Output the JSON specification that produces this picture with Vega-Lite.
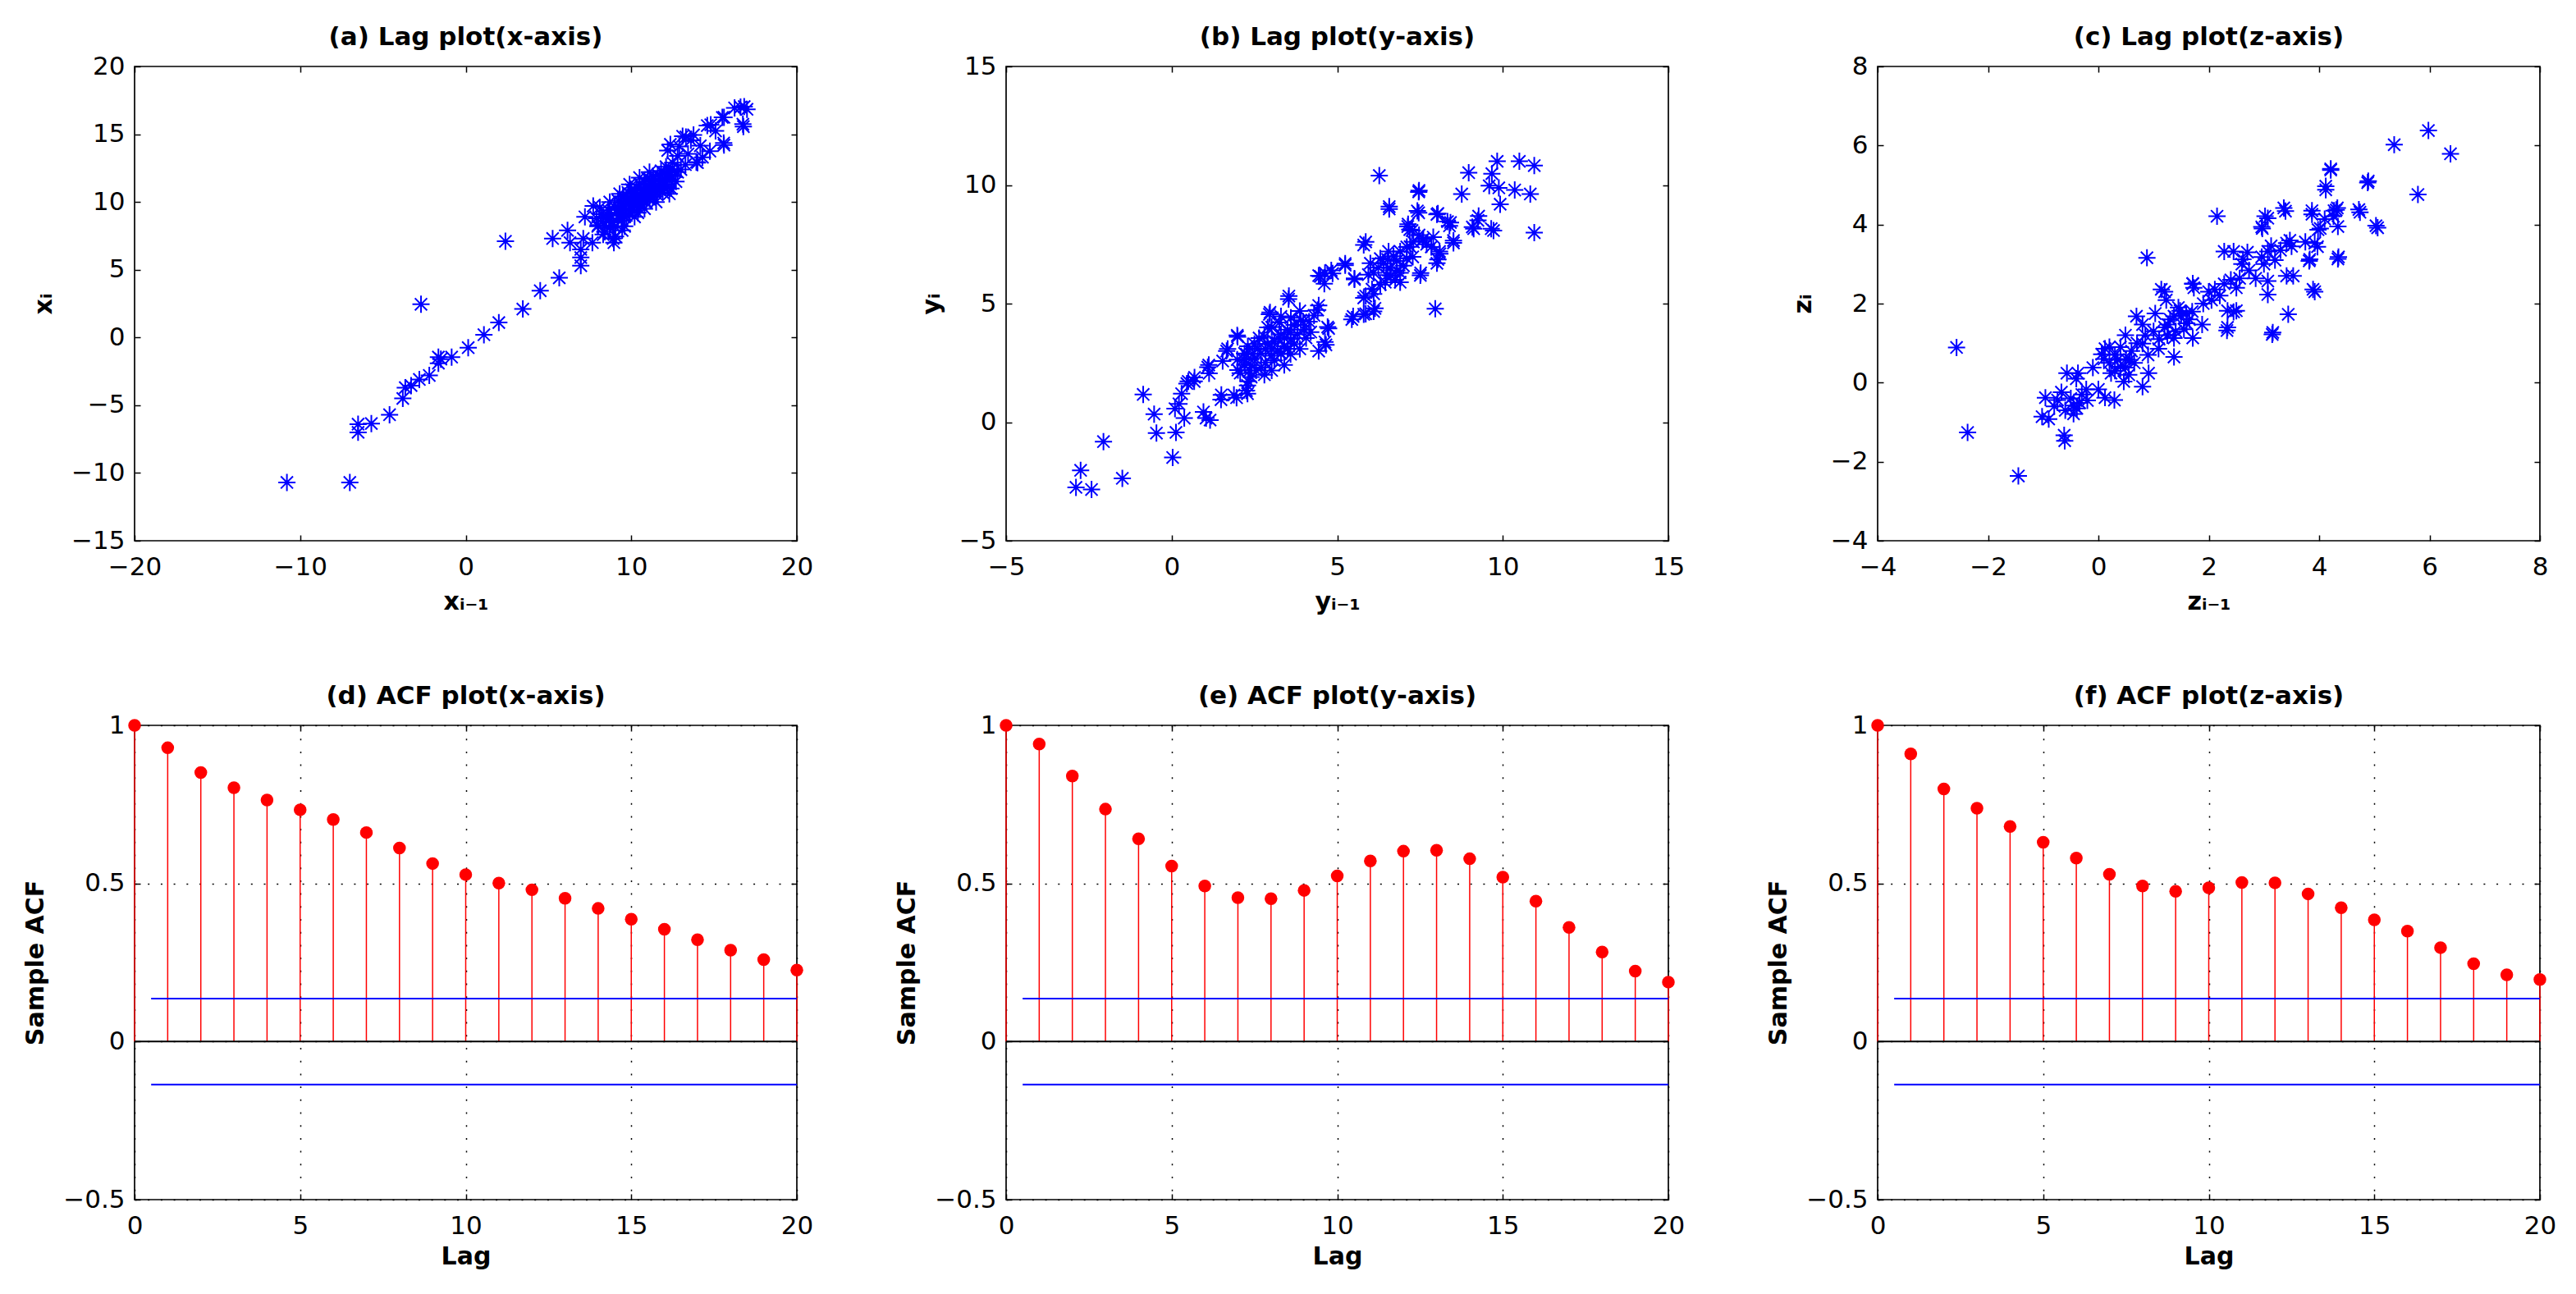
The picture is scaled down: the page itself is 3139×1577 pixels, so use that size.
{
  "$schema": "https://vega.github.io/schema/vega-lite/v6.json",
  "description": "Lag plots and sample ACF plots for the x, y and z axes",
  "background": "white",
  "padding": {"left": 27, "top": 29, "right": 0, "bottom": 0},
  "columns": 3,
  "spacing": {"row": 225, "column": 255},
  "bounds": "flush",
  "datasets": {
    "lagx": [
      {"prev": -10.8, "curr": -10.7}, {"prev": -7.0, "curr": -10.7}, {"prev": -6.5, "curr": -6.4}, {"prev": -6.5, "curr": -7.0},
      {"prev": -5.7, "curr": -6.35}, {"prev": -4.6, "curr": -5.7}, {"prev": -3.8, "curr": -4.5}, {"prev": -3.65, "curr": -3.7},
      {"prev": -3.3, "curr": -3.55}, {"prev": -2.8, "curr": -3.1}, {"prev": -2.2, "curr": -2.8}, {"prev": -2.7, "curr": 2.45},
      {"prev": -1.65, "curr": -1.45}, {"prev": -1.65, "curr": -1.9}, {"prev": -1.5, "curr": -1.6}, {"prev": -0.85, "curr": -1.45},
      {"prev": 0.15, "curr": -0.75}, {"prev": 1.1, "curr": 0.2}, {"prev": 2.0, "curr": 1.1}, {"prev": 2.4, "curr": 7.1},
      {"prev": 3.45, "curr": 2.1}, {"prev": 4.5, "curr": 3.45}, {"prev": 5.65, "curr": 4.4}, {"prev": 5.25, "curr": 7.3},
      {"prev": 6.15, "curr": 7.9}, {"prev": 6.3, "curr": 7.0}, {"prev": 6.95, "curr": 5.3}, {"prev": 6.95, "curr": 5.9},
      {"prev": 6.95, "curr": 6.5}, {"prev": 7.1, "curr": 7.3}, {"prev": 7.2, "curr": 8.9}, {"prev": 7.7, "curr": 9.7},
      {"prev": 7.65, "curr": 7.0}, {"prev": 8.95, "curr": 7.0}, {"prev": 9.05, "curr": 7.45}, {"prev": 9.45, "curr": 7.9},
      {"prev": 8.64, "curr": 8.76}, {"prev": 7.98, "curr": 8.2},
      {"prev": 12.36, "curr": 14.25}, {"prev": 13.1, "curr": 14.85}, {"prev": 13.76, "curr": 14.95}, {"prev": 14.59, "curr": 15.64},
      {"prev": 15.09, "curr": 15.24}, {"prev": 15.5, "curr": 16.24}, {"prev": 15.58, "curr": 14.35}, {"prev": 14.75, "curr": 13.75},
      {"prev": 14.17, "curr": 14.15}, {"prev": 13.6, "curr": 14.55}, {"prev": 13.43, "curr": 13.55}, {"prev": 13.93, "curr": 12.95},
      {"prev": 13.27, "curr": 12.75}, {"prev": 16.24, "curr": 16.94}, {"prev": 16.82, "curr": 17.04}, {"prev": 16.99, "curr": 16.84},
      {"prev": 16.74, "curr": 15.74}, {"prev": 16.6, "curr": 17.0}, {"prev": 15.6, "curr": 16.25}, {"prev": 16.77, "curr": 15.56},
      {"prev": 15.6, "curr": 14.2}, {"prev": 14.8, "curr": 15.7}, {"prev": 13.3, "curr": 14.8}, {"prev": 14.3, "curr": 13.3},
      {"prev": 14.0, "curr": 12.9}, {"prev": 12.8, "curr": 13.4}, {"prev": 12.5, "curr": 12.9}, {"prev": 12.2, "curr": 13.8},
      {"prev": 12.9, "curr": 14.1},
      {"prev": 8.0, "curr": 8.3}, {"prev": 8.2, "curr": 9.1}, {"prev": 8.4, "curr": 7.8}, {"prev": 8.5, "curr": 8.6},
      {"prev": 8.6, "curr": 9.4}, {"prev": 8.7, "curr": 8.1}, {"prev": 8.8, "curr": 9.0}, {"prev": 8.9, "curr": 8.5},
      {"prev": 9.0, "curr": 9.6}, {"prev": 9.0, "curr": 8.2}, {"prev": 9.1, "curr": 9.2}, {"prev": 9.2, "curr": 8.8},
      {"prev": 9.2, "curr": 10.1}, {"prev": 9.3, "curr": 9.5}, {"prev": 9.4, "curr": 8.6}, {"prev": 9.4, "curr": 9.9},
      {"prev": 9.5, "curr": 9.1}, {"prev": 9.5, "curr": 10.4}, {"prev": 9.6, "curr": 9.7}, {"prev": 9.6, "curr": 8.9},
      {"prev": 9.7, "curr": 10.2}, {"prev": 9.7, "curr": 9.4}, {"prev": 9.8, "curr": 9.9}, {"prev": 9.8, "curr": 10.7},
      {"prev": 9.9, "curr": 9.2}, {"prev": 9.9, "curr": 10.3}, {"prev": 10.0, "curr": 9.7}, {"prev": 10.0, "curr": 10.9},
      {"prev": 10.1, "curr": 10.1}, {"prev": 10.1, "curr": 9.4}, {"prev": 10.2, "curr": 10.6}, {"prev": 10.2, "curr": 9.8},
      {"prev": 10.3, "curr": 10.2}, {"prev": 10.3, "curr": 11.1}, {"prev": 10.4, "curr": 9.6}, {"prev": 10.4, "curr": 10.5},
      {"prev": 10.5, "curr": 10.0}, {"prev": 10.5, "curr": 11.3}, {"prev": 10.6, "curr": 10.4}, {"prev": 10.6, "curr": 9.8},
      {"prev": 10.7, "curr": 10.9}, {"prev": 10.7, "curr": 10.2}, {"prev": 10.8, "curr": 11.5}, {"prev": 10.8, "curr": 10.6},
      {"prev": 10.9, "curr": 10.0}, {"prev": 10.9, "curr": 11.0}, {"prev": 11.0, "curr": 10.5}, {"prev": 11.0, "curr": 11.7},
      {"prev": 11.1, "curr": 10.8}, {"prev": 11.1, "curr": 10.2}, {"prev": 11.2, "curr": 11.3}, {"prev": 11.2, "curr": 10.7},
      {"prev": 11.3, "curr": 11.9}, {"prev": 11.3, "curr": 10.4}, {"prev": 11.4, "curr": 11.1}, {"prev": 11.4, "curr": 10.8},
      {"prev": 11.5, "curr": 11.6}, {"prev": 11.5, "curr": 10.6}, {"prev": 11.6, "curr": 11.2}, {"prev": 11.6, "curr": 12.0},
      {"prev": 11.7, "curr": 10.9}, {"prev": 11.7, "curr": 11.5}, {"prev": 11.8, "curr": 12.3}, {"prev": 11.8, "curr": 11.0},
      {"prev": 11.9, "curr": 11.7}, {"prev": 11.9, "curr": 10.7}, {"prev": 12.0, "curr": 12.1}, {"prev": 12.0, "curr": 11.3},
      {"prev": 12.1, "curr": 11.8}, {"prev": 12.1, "curr": 12.6}, {"prev": 12.2, "curr": 11.1}, {"prev": 12.2, "curr": 12.0},
      {"prev": 12.3, "curr": 11.6}, {"prev": 12.4, "curr": 12.4}, {"prev": 12.4, "curr": 11.0}, {"prev": 12.5, "curr": 11.9},
      {"prev": 12.6, "curr": 12.3}, {"prev": 12.7, "curr": 11.5}, {"prev": 12.8, "curr": 12.2}, {"prev": 13.0, "curr": 12.4},
      {"prev": 8.3, "curr": 7.6}, {"prev": 8.9, "curr": 7.3}, {"prev": 9.6, "curr": 8.2}, {"prev": 10.2, "curr": 8.9},
      {"prev": 10.8, "curr": 9.5}, {"prev": 11.5, "curr": 10.0}, {"prev": 12.3, "curr": 10.6}, {"prev": 8.1, "curr": 9.6},
      {"prev": 8.7, "curr": 10.0}, {"prev": 9.3, "curr": 10.6}, {"prev": 9.9, "curr": 11.3}, {"prev": 10.5, "curr": 11.8},
      {"prev": 11.1, "curr": 12.2}, {"prev": 9.7, "curr": 9.0}, {"prev": 10.4, "curr": 9.2}, {"prev": 7.9, "curr": 8.8},
      {"prev": 8.3, "curr": 8.9}, {"prev": 10.0, "curr": 10.2}, {"prev": 10.6, "curr": 10.7}, {"prev": 11.2, "curr": 11.6}
    ],
    "lagy": [
      {"prev": -2.89, "curr": -2.75}, {"prev": -2.75, "curr": -2.03}, {"prev": -2.42, "curr": -2.84}, {"prev": -2.06, "curr": -0.82},
      {"prev": -1.49, "curr": -2.37}, {"prev": -0.86, "curr": 1.17}, {"prev": -0.53, "curr": 0.34}, {"prev": -0.46, "curr": -0.46},
      {"prev": 0.03, "curr": -1.49}, {"prev": 0.13, "curr": -0.43}, {"prev": 0.1, "curr": 0.57}, {"prev": 0.22, "curr": 0.77},
      {"prev": 0.38, "curr": 0.17}, {"prev": 0.3, "curr": 1.2}, {"prev": 0.46, "curr": 1.63}, {"prev": 0.68, "curr": 1.72},
      {"prev": 0.96, "curr": 0.43}, {"prev": 1.04, "curr": 0.17}, {"prev": 1.16, "curr": 0.09}, {"prev": 1.13, "curr": 2.06},
      {"prev": 1.09, "curr": 2.32}, {"prev": 1.54, "curr": 2.58}, {"prev": 1.49, "curr": 0.95}, {"prev": 1.66, "curr": 3.0},
      {"prev": 1.96, "curr": 1.03}, {"prev": 1.99, "curr": 3.6}, {"prev": 2.29, "curr": 1.2}, {"prev": 2.29, "curr": 1.55},
      {"prev": 2.95, "curr": 4.55}, {"prev": 3.53, "curr": 5.19}, {"prev": 4.41, "curr": 4.73}, {"prev": 4.74, "curr": 3.95},
      {"prev": 4.66, "curr": 3.26}, {"prev": 4.44, "curr": 3.0}, {"prev": 4.49, "curr": 6.15}, {"prev": 4.61, "curr": 5.84},
      {"prev": 4.86, "curr": 6.27}, {"prev": 5.24, "curr": 6.62}, {"prev": 5.44, "curr": 4.33}, {"prev": 5.52, "curr": 6.02},
      {"prev": 5.8, "curr": 4.55}, {"prev": 6.1, "curr": 4.67}, {"prev": 5.8, "curr": 5.24}, {"prev": 5.8, "curr": 7.47},
      {"prev": 5.94, "curr": 6.22}, {"prev": 6.1, "curr": 5.41}, {"prev": 6.27, "curr": 10.4}, {"prev": 6.57, "curr": 8.99},
      {"prev": 7.46, "curr": 9.71}, {"prev": 7.46, "curr": 8.83}, {"prev": 7.13, "curr": 8.25}, {"prev": 7.51, "curr": 6.19},
      {"prev": 7.96, "curr": 4.78}, {"prev": 8.01, "curr": 8.76}, {"prev": 8.01, "curr": 6.7}, {"prev": 8.39, "curr": 8.28},
      {"prev": 8.51, "curr": 7.56}, {"prev": 8.76, "curr": 9.62}, {"prev": 8.97, "curr": 10.52}, {"prev": 9.12, "curr": 8.16},
      {"prev": 9.25, "curr": 8.51}, {"prev": 9.59, "curr": 9.97}, {"prev": 9.67, "curr": 10.48}, {"prev": 9.72, "curr": 8.08},
      {"prev": 9.83, "curr": 11.0}, {"prev": 9.88, "curr": 9.88}, {"prev": 9.92, "curr": 9.19}, {"prev": 10.36, "curr": 9.79},
      {"prev": 10.5, "curr": 11.0}, {"prev": 10.83, "curr": 9.62}, {"prev": 10.95, "curr": 10.82}, {"prev": 10.95, "curr": 7.99},
      {"prev": 8.42, "curr": 8.42}, {"prev": 7.26, "curr": 8.08}, {"prev": 7.1, "curr": 7.39}, {"prev": 7.6, "curr": 7.73},
      {"prev": 7.84, "curr": 7.39}, {"prev": 0.69, "curr": 1.89}, {"prev": 0.5, "curr": 1.72}, {"prev": 1.5, "curr": 1.15},
      {"prev": 1.88, "curr": 1.15}, {"prev": 2.26, "curr": 1.33}, {"prev": 2.31, "curr": 1.72}, {"prev": 1.12, "curr": 2.41},
      {"prev": 1.69, "curr": 3.09}, {"prev": 4.15, "curr": 4.24}, {"prev": 4.06, "curr": 3.55}, {"prev": 4.63, "curr": 3.38},
      {"prev": 4.71, "curr": 4.01},
      {"prev": 1.98, "curr": 3.66}, {"prev": 2.97, "curr": 4.63}, {"prev": 3.54, "curr": 5.32}, {"prev": 4.44, "curr": 4.92},
      {"prev": 2.21, "curr": 2.41}, {"prev": 2.26, "curr": 2.87}, {"prev": 2.64, "curr": 3.55}, {"prev": 3.02, "curr": 4.01},
      {"prev": 3.3, "curr": 4.46}, {"prev": 3.87, "curr": 4.69}, {"prev": 3.97, "curr": 4.24}, {"prev": 3.4, "curr": 3.55},
      {"prev": 3.02, "curr": 3.09}, {"prev": 2.83, "curr": 2.52}, {"prev": 2.55, "curr": 2.18}, {"prev": 2.17, "curr": 2.64},
      {"prev": 2.45, "curr": 2.87}, {"prev": 2.83, "curr": 3.09}, {"prev": 3.21, "curr": 3.55}, {"prev": 3.59, "curr": 3.78},
      {"prev": 3.4, "curr": 2.41}, {"prev": 3.02, "curr": 2.18}, {"prev": 2.36, "curr": 2.18}, {"prev": 2.07, "curr": 2.07},
      {"prev": 1.98, "curr": 2.64}, {"prev": 3.87, "curr": 3.09}, {"prev": 3.59, "curr": 2.87}, {"prev": 2.5, "curr": 2.7},
      {"prev": 2.7, "curr": 2.9}, {"prev": 2.9, "curr": 3.3}, {"prev": 3.1, "curr": 3.4}, {"prev": 3.3, "curr": 3.7},
      {"prev": 3.5, "curr": 3.9}, {"prev": 3.7, "curr": 4.1}, {"prev": 2.4, "curr": 2.4}, {"prev": 2.6, "curr": 3.1},
      {"prev": 2.8, "curr": 3.6}, {"prev": 3.0, "curr": 2.8}, {"prev": 3.2, "curr": 3.0}, {"prev": 3.4, "curr": 3.2},
      {"prev": 3.6, "curr": 3.5}, {"prev": 3.8, "curr": 3.7}, {"prev": 4.0, "curr": 3.9}, {"prev": 2.2, "curr": 2.9},
      {"prev": 2.5, "curr": 3.3}, {"prev": 2.7, "curr": 2.3}, {"prev": 3.1, "curr": 2.6}, {"prev": 3.3, "curr": 2.9},
      {"prev": 3.5, "curr": 3.1}, {"prev": 3.7, "curr": 3.3}, {"prev": 3.9, "curr": 4.3}, {"prev": 4.2, "curr": 3.8},
      {"prev": 2.3, "curr": 3.2}, {"prev": 2.9, "curr": 4.0}, {"prev": 3.25, "curr": 4.2}, {"prev": 3.6, "curr": 4.4},
      {"prev": 4.3, "curr": 4.5}, {"prev": 2.0, "curr": 2.2}, {"prev": 2.4, "curr": 1.9}, {"prev": 2.8, "curr": 2.0},
      {"prev": 5.86, "curr": 7.6}, {"prev": 6.52, "curr": 6.86}, {"prev": 6.8, "curr": 6.4}, {"prev": 6.62, "curr": 6.18},
      {"prev": 6.24, "curr": 6.52}, {"prev": 6.9, "curr": 7.2}, {"prev": 7.28, "curr": 6.97}, {"prev": 7.52, "curr": 6.29},
      {"prev": 6.05, "curr": 5.61}, {"prev": 5.86, "curr": 5.32}, {"prev": 6.14, "curr": 4.8}, {"prev": 5.86, "curr": 4.57},
      {"prev": 5.48, "curr": 4.46}, {"prev": 8.04, "curr": 6.86}, {"prev": 8.09, "curr": 7.2}, {"prev": 8.51, "curr": 7.66},
      {"prev": 7.47, "curr": 7.89}, {"prev": 7.19, "curr": 8.12}, {"prev": 7.57, "curr": 7.66}, {"prev": 8.04, "curr": 8.8},
      {"prev": 8.33, "curr": 8.46}, {"prev": 7.14, "curr": 8.35}, {"prev": 7.42, "curr": 8.91}, {"prev": 6.57, "curr": 9.09},
      {"prev": 7.47, "curr": 9.77}, {"prev": 4.63, "curr": 6.29}, {"prev": 4.44, "curr": 6.18}, {"prev": 4.82, "curr": 6.4},
      {"prev": 5.24, "curr": 6.69}, {"prev": 5.52, "curr": 6.06}, {"prev": 9.08, "curr": 8.23}, {"prev": 9.65, "curr": 8.16},
      {"prev": 9.27, "curr": 8.69}, {"prev": 6.4, "curr": 6.7}, {"prev": 6.6, "curr": 6.5}, {"prev": 6.7, "curr": 7.0},
      {"prev": 6.5, "curr": 6.2}, {"prev": 6.8, "curr": 6.8}, {"prev": 6.3, "curr": 6.9}, {"prev": 6.9, "curr": 6.3},
      {"prev": 7.0, "curr": 6.6}, {"prev": 6.45, "curr": 5.9}, {"prev": 6.75, "curr": 6.0}, {"prev": 7.1, "curr": 6.9},
      {"prev": 6.55, "curr": 7.2}, {"prev": 7.2, "curr": 7.4}, {"prev": 6.1, "curr": 6.3}, {"prev": 6.0, "curr": 6.7},
      {"prev": 7.3, "curr": 7.6}, {"prev": 7.7, "curr": 7.5}, {"prev": 7.9, "curr": 7.8}, {"prev": 8.1, "curr": 7.1},
      {"prev": 6.9, "curr": 5.9}, {"prev": 6.3, "curr": 5.8}
    ],
    "lagz": [
      {"prev": -2.57, "curr": 0.89}, {"prev": -2.37, "curr": -1.26}, {"prev": -1.45, "curr": -2.36}, {"prev": -0.61, "curr": -1.47},
      {"prev": 0.88, "curr": 3.16}, {"prev": 2.15, "curr": 4.21}, {"prev": 3.15, "curr": 1.22}, {"prev": 3.44, "curr": 1.73},
      {"prev": 3.92, "curr": 2.3}, {"prev": 5.36, "curr": 6.02}, {"prev": 5.79, "curr": 4.76}, {"prev": 5.98, "curr": 6.38},
      {"prev": 6.38, "curr": 5.79}, {"prev": 5.06, "curr": 3.92}, {"prev": 4.88, "curr": 5.06}, {"prev": 4.74, "curr": 4.31},
      {"prev": 4.21, "curr": 5.38}, {"prev": 4.12, "curr": 4.88}, {"prev": 4.34, "curr": 3.13}, {"prev": 4.34, "curr": 3.95},
      {"prev": 4.31, "curr": 4.37}, {"prev": 4.26, "curr": 4.21}, {"prev": 3.87, "curr": 4.26}, {"prev": 3.82, "curr": 3.08},
      {"prev": 4.02, "curr": 3.9}, {"prev": 3.97, "curr": 3.44}, {"prev": 3.39, "curr": 4.34}, {"prev": 3.07, "curr": 4.16},
      {"prev": 2.97, "curr": 3.9}, {"prev": 2.33, "curr": 1.32}, {"prev": 2.45, "curr": 1.79}, {"prev": 1.2, "curr": 2.3},
      {"prev": 1.23, "curr": 2.09}, {"prev": 1.73, "curr": 2.4}, {"prev": 1.71, "curr": 2.51},
      {"prev": -0.96, "curr": -0.38}, {"prev": -1.02, "curr": -0.86}, {"prev": -0.9, "curr": -0.92}, {"prev": -0.62, "curr": -1.33},
      {"prev": -0.67, "curr": -0.24}, {"prev": -0.45, "curr": -0.58}, {"prev": -0.37, "curr": 0.24}, {"prev": -0.57, "curr": 0.24},
      {"prev": -0.22, "curr": -0.17}, {"prev": -0.39, "curr": -0.65}, {"prev": -0.1, "curr": 0.38}, {"prev": -0.34, "curr": -0.51},
      {"prev": -0.74, "curr": -0.44}, {"prev": -0.45, "curr": -0.79}, {"prev": 0.0, "curr": -0.17}, {"prev": 0.12, "curr": -0.38},
      {"prev": 0.29, "curr": -0.44}, {"prev": 0.23, "curr": 0.24}, {"prev": 0.06, "curr": 0.72}, {"prev": 0.12, "curr": 0.86},
      {"prev": 0.35, "curr": 0.58}, {"prev": 0.49, "curr": 1.2}, {"prev": 0.49, "curr": 0.38}, {"prev": 0.57, "curr": 0.58},
      {"prev": 0.8, "curr": 0.99}, {"prev": 0.91, "curr": 0.24}, {"prev": 0.46, "curr": 0.03}, {"prev": 0.8, "curr": -0.1},
      {"prev": 0.69, "curr": 1.68}, {"prev": 1.03, "curr": 1.75}, {"prev": 0.8, "curr": 1.47}, {"prev": 1.14, "curr": 2.36},
      {"prev": 1.26, "curr": 1.47}, {"prev": 1.37, "curr": 1.68}, {"prev": 1.48, "curr": 1.82}, {"prev": 1.59, "curr": 1.75},
      {"prev": 1.37, "curr": 1.13}, {"prev": 1.09, "curr": 0.86}, {"prev": 1.37, "curr": 0.65}, {"prev": 1.71, "curr": 1.13},
      {"prev": 1.71, "curr": 2.5}, {"prev": 1.88, "curr": 1.47}, {"prev": 2.11, "curr": 2.36}, {"prev": 2.05, "curr": 2.09},
      {"prev": 2.28, "curr": 2.5}, {"prev": 2.34, "curr": 1.82}, {"prev": 2.5, "curr": 1.82}, {"prev": 2.34, "curr": 1.4},
      {"prev": 2.45, "curr": 3.32}, {"prev": 2.28, "curr": 3.32}, {"prev": 2.62, "curr": 3.12}, {"prev": 2.73, "curr": 2.84},
      {"prev": 2.56, "curr": 2.64}, {"prev": 2.85, "curr": 2.64}, {"prev": 2.96, "curr": 3.18}, {"prev": 3.07, "curr": 3.32},
      {"prev": 3.02, "curr": 4.21}, {"prev": 2.96, "curr": 3.94}, {"prev": 3.36, "curr": 4.42}, {"prev": 3.47, "curr": 3.6},
      {"prev": 3.41, "curr": 2.7}, {"prev": 3.53, "curr": 2.7}, {"prev": 3.07, "curr": 2.57}, {"prev": 3.07, "curr": 2.23},
      {"prev": 3.13, "curr": 3.46}, {"prev": 3.41, "curr": 3.53}, {"prev": 3.75, "curr": 3.56}, {"prev": 3.92, "curr": 3.53},
      {"prev": 3.83, "curr": 3.12}, {"prev": 3.87, "curr": 4.35}, {"prev": 3.98, "curr": 3.87}, {"prev": 4.1, "curr": 4.14},
      {"prev": 4.27, "curr": 4.35}, {"prev": 4.33, "curr": 4.42}, {"prev": 4.12, "curr": 4.97}, {"prev": 4.21, "curr": 5.41},
      {"prev": 4.72, "curr": 4.38}, {"prev": 5.03, "curr": 3.97}, {"prev": 4.89, "curr": 5.1}, {"prev": 4.35, "curr": 3.18},
      {"prev": 3.89, "curr": 2.36}, {"prev": 3.16, "curr": 1.27},
      {"prev": 0.1, "curr": 0.6}, {"prev": 0.2, "curr": 0.5}, {"prev": 0.3, "curr": 0.7}, {"prev": 0.4, "curr": 0.4},
      {"prev": 0.5, "curr": 0.6}, {"prev": 0.6, "curr": 0.8}, {"prev": 0.3, "curr": 0.3}, {"prev": 0.2, "curr": 0.9},
      {"prev": 0.55, "curr": 0.2}, {"prev": 0.65, "curr": 0.5}, {"prev": 0.7, "curr": 1.0}, {"prev": 0.4, "curr": 0.9},
      {"prev": 1.2, "curr": 1.4}, {"prev": 1.3, "curr": 1.6}, {"prev": 1.4, "curr": 1.3}, {"prev": 1.5, "curr": 1.7},
      {"prev": 1.6, "curr": 1.5}, {"prev": 1.7, "curr": 1.8}, {"prev": 1.55, "curr": 1.35}, {"prev": 1.25, "curr": 1.2},
      {"prev": 1.45, "curr": 1.9}, {"prev": 1.65, "curr": 1.6}, {"prev": 1.1, "curr": 1.1}, {"prev": 0.9, "curr": 0.7},
      {"prev": 1.0, "curr": 1.3}, {"prev": 0.85, "curr": 1.2}, {"prev": -0.5, "curr": -0.4}, {"prev": -0.6, "curr": -0.7},
      {"prev": -0.3, "curr": -0.3}, {"prev": -0.8, "curr": -0.6}, {"prev": -0.4, "curr": 0.1}, {"prev": -0.2, "curr": -0.45},
      {"prev": 2.6, "curr": 3.0}, {"prev": 2.5, "curr": 2.4}, {"prev": 2.7, "curr": 3.3}, {"prev": 3.2, "curr": 3.1},
      {"prev": 3.3, "curr": 3.35}, {"prev": 3.5, "curr": 3.45}, {"prev": 3.0, "curr": 3.0}, {"prev": 2.2, "curr": 2.2},
      {"prev": 2.4, "curr": 2.6}, {"prev": 1.9, "curr": 2.0}, {"prev": 2.0, "curr": 2.3}
    ],
    "acfx": [
      {"lag": 0, "acf": 1.0}, {"lag": 1, "acf": 0.929}, {"lag": 2, "acf": 0.851}, {"lag": 3, "acf": 0.803},
      {"lag": 4, "acf": 0.764}, {"lag": 5, "acf": 0.733}, {"lag": 6, "acf": 0.702}, {"lag": 7, "acf": 0.661},
      {"lag": 8, "acf": 0.612}, {"lag": 9, "acf": 0.563}, {"lag": 10, "acf": 0.528}, {"lag": 11, "acf": 0.501},
      {"lag": 12, "acf": 0.48}, {"lag": 13, "acf": 0.453}, {"lag": 14, "acf": 0.421}, {"lag": 15, "acf": 0.387},
      {"lag": 16, "acf": 0.355}, {"lag": 17, "acf": 0.322}, {"lag": 18, "acf": 0.289}, {"lag": 19, "acf": 0.259},
      {"lag": 20, "acf": 0.226}
    ],
    "acfy": [
      {"lag": 0, "acf": 1.0}, {"lag": 1, "acf": 0.941}, {"lag": 2, "acf": 0.84}, {"lag": 3, "acf": 0.735},
      {"lag": 4, "acf": 0.641}, {"lag": 5, "acf": 0.555}, {"lag": 6, "acf": 0.492}, {"lag": 7, "acf": 0.455},
      {"lag": 8, "acf": 0.452}, {"lag": 9, "acf": 0.478}, {"lag": 10, "acf": 0.524}, {"lag": 11, "acf": 0.571},
      {"lag": 12, "acf": 0.602}, {"lag": 13, "acf": 0.605}, {"lag": 14, "acf": 0.578}, {"lag": 15, "acf": 0.52},
      {"lag": 16, "acf": 0.444}, {"lag": 17, "acf": 0.361}, {"lag": 18, "acf": 0.283}, {"lag": 19, "acf": 0.223},
      {"lag": 20, "acf": 0.188}
    ],
    "acfz": [
      {"lag": 0, "acf": 1.0}, {"lag": 1, "acf": 0.91}, {"lag": 2, "acf": 0.799}, {"lag": 3, "acf": 0.738},
      {"lag": 4, "acf": 0.68}, {"lag": 5, "acf": 0.63}, {"lag": 6, "acf": 0.58}, {"lag": 7, "acf": 0.529},
      {"lag": 8, "acf": 0.492}, {"lag": 9, "acf": 0.475}, {"lag": 10, "acf": 0.486}, {"lag": 11, "acf": 0.503},
      {"lag": 12, "acf": 0.502}, {"lag": 13, "acf": 0.467}, {"lag": 14, "acf": 0.423}, {"lag": 15, "acf": 0.385},
      {"lag": 16, "acf": 0.349}, {"lag": 17, "acf": 0.297}, {"lag": 18, "acf": 0.246}, {"lag": 19, "acf": 0.211},
      {"lag": 20, "acf": 0.196}
    ],
    "bands": [
      {"kind": "bound", "level": 0.136, "from": 0.5, "to": 20},
      {"kind": "bound", "level": -0.136, "from": 0.5, "to": 20},
      {"kind": "zero", "level": 0, "from": 0, "to": 20}
    ]
  },
  "concat": [
    {
      "title": "(a) Lag plot(x-axis)",
      "width": 807,
      "height": 578,
      "data": {"name": "lagx"},
      "layer": [
        {
          "mark": {"type": "point", "shape": "M-1,0L1,0M0,-1L0,1M-0.7071,-0.7071L0.7071,0.7071M-0.7071,0.7071L0.7071,-0.7071", "filled": false, "color": "#0000ff", "size": 440, "strokeWidth": 2, "opacity": 1},
          "encoding": {
            "x": {"field": "prev", "type": "quantitative", "scale": {"domain": [-20, 20], "nice": false, "zero": false}, "axis": {"values": [-20, -10, 0, 10, 20], "title": "xᵢ₋₁", "titlePadding": 12}},
            "y": {"field": "curr", "type": "quantitative", "scale": {"domain": [-15, 20], "nice": false, "zero": false}, "axis": {"values": [-15, -10, -5, 0, 5, 10, 15, 20], "title": "xᵢ"}}
          }
        },
        {
          "mark": {"type": "point", "opacity": 0},
          "encoding": {
            "x": {"field": "prev", "type": "quantitative", "scale": {"domain": [-20, 20], "nice": false, "zero": false}, "axis": {"orient": "top", "values": [-20, -10, 0, 10, 20], "labels": false, "title": null}},
            "y": {"field": "curr", "type": "quantitative", "scale": {"domain": [-15, 20], "nice": false, "zero": false}, "axis": {"orient": "right", "values": [-15, -10, -5, 0, 5, 10, 15, 20], "labels": false, "title": null}}
          }
        }
      ],
      "resolve": {"axis": {"x": "independent", "y": "independent"}}
    },
    {
      "title": "(b) Lag plot(y-axis)",
      "width": 807,
      "height": 578,
      "data": {"name": "lagy"},
      "layer": [
        {
          "mark": {"type": "point", "shape": "M-1,0L1,0M0,-1L0,1M-0.7071,-0.7071L0.7071,0.7071M-0.7071,0.7071L0.7071,-0.7071", "filled": false, "color": "#0000ff", "size": 440, "strokeWidth": 2, "opacity": 1},
          "encoding": {
            "x": {"field": "prev", "type": "quantitative", "scale": {"domain": [-5, 15], "nice": false, "zero": false}, "axis": {"values": [-5, 0, 5, 10, 15], "title": "yᵢ₋₁", "titlePadding": 12}},
            "y": {"field": "curr", "type": "quantitative", "scale": {"domain": [-5, 15], "nice": false, "zero": false}, "axis": {"values": [-5, 0, 5, 10, 15], "title": "yᵢ"}}
          }
        },
        {
          "mark": {"type": "point", "opacity": 0},
          "encoding": {
            "x": {"field": "prev", "type": "quantitative", "scale": {"domain": [-5, 15], "nice": false, "zero": false}, "axis": {"orient": "top", "values": [-5, 0, 5, 10, 15], "labels": false, "title": null}},
            "y": {"field": "curr", "type": "quantitative", "scale": {"domain": [-5, 15], "nice": false, "zero": false}, "axis": {"orient": "right", "values": [-5, 0, 5, 10, 15], "labels": false, "title": null}}
          }
        }
      ],
      "resolve": {"axis": {"x": "independent", "y": "independent"}}
    },
    {
      "title": "(c) Lag plot(z-axis)",
      "width": 807,
      "height": 578,
      "data": {"name": "lagz"},
      "layer": [
        {
          "mark": {"type": "point", "shape": "M-1,0L1,0M0,-1L0,1M-0.7071,-0.7071L0.7071,0.7071M-0.7071,0.7071L0.7071,-0.7071", "filled": false, "color": "#0000ff", "size": 440, "strokeWidth": 2, "opacity": 1},
          "encoding": {
            "x": {"field": "prev", "type": "quantitative", "scale": {"domain": [-4, 8], "nice": false, "zero": false}, "axis": {"values": [-4, -2, 0, 2, 4, 6, 8], "title": "zᵢ₋₁", "titlePadding": 12}},
            "y": {"field": "curr", "type": "quantitative", "scale": {"domain": [-4, 8], "nice": false, "zero": false}, "axis": {"values": [-4, -2, 0, 2, 4, 6, 8], "title": "zᵢ"}}
          }
        },
        {
          "mark": {"type": "point", "opacity": 0},
          "encoding": {
            "x": {"field": "prev", "type": "quantitative", "scale": {"domain": [-4, 8], "nice": false, "zero": false}, "axis": {"orient": "top", "values": [-4, -2, 0, 2, 4, 6, 8], "labels": false, "title": null}},
            "y": {"field": "curr", "type": "quantitative", "scale": {"domain": [-4, 8], "nice": false, "zero": false}, "axis": {"orient": "right", "values": [-4, -2, 0, 2, 4, 6, 8], "labels": false, "title": null}}
          }
        }
      ],
      "resolve": {"axis": {"x": "independent", "y": "independent"}}
    },
    {
      "title": "(d) ACF plot(x-axis)",
      "width": 807,
      "height": 578,
      "layer": [
        {
          "data": {"name": "acfx"},
          "mark": {"type": "rule", "color": "#ff0000", "strokeWidth": 1.5},
          "encoding": {
            "x": {"field": "lag", "type": "quantitative", "scale": {"domain": [0, 20], "nice": false, "zero": false}, "axis": {"values": [0, 5, 10, 15, 20], "title": "Lag", "grid": true}},
            "y": {"field": "acf", "type": "quantitative", "scale": {"domain": [-0.5, 1], "nice": false, "zero": false}, "axis": {"values": [-0.5, 0, 0.5, 1], "format": "~g", "title": "Sample ACF", "grid": true}},
            "y2": {"datum": 0}
          }
        },
        {
          "data": {"name": "bands"},
          "mark": {"type": "rule", "strokeWidth": 2},
          "encoding": {
            "x": {"field": "from", "type": "quantitative", "scale": {"domain": [0, 20], "nice": false, "zero": false}, "axis": null},
            "x2": {"field": "to"},
            "y": {"field": "level", "type": "quantitative", "scale": {"domain": [-0.5, 1], "nice": false, "zero": false}, "axis": null},
            "color": {"field": "kind", "type": "nominal", "scale": {"domain": ["bound", "zero"], "range": ["#0000ff", "#000000"]}, "legend": null}
          }
        },
        {
          "data": {"name": "acfx"},
          "mark": {"type": "point", "filled": true, "color": "#ff0000", "size": 240, "opacity": 1},
          "encoding": {
            "x": {"field": "lag", "type": "quantitative", "scale": {"domain": [0, 20], "nice": false, "zero": false}, "axis": null},
            "y": {"field": "acf", "type": "quantitative", "scale": {"domain": [-0.5, 1], "nice": false, "zero": false}, "axis": null}
          }
        },
        {
          "data": {"name": "acfx"},
          "mark": {"type": "point", "opacity": 0},
          "encoding": {
            "x": {"field": "lag", "type": "quantitative", "scale": {"domain": [0, 20], "nice": false, "zero": false}, "axis": {"orient": "top", "values": [0, 5, 10, 15, 20], "labels": false, "title": null}},
            "y": {"field": "acf", "type": "quantitative", "scale": {"domain": [-0.5, 1], "nice": false, "zero": false}, "axis": {"orient": "right", "values": [-0.5, 0, 0.5, 1], "labels": false, "title": null}}
          }
        }
      ],
      "resolve": {"axis": {"x": "independent", "y": "independent"}}
    },
    {
      "title": "(e) ACF plot(y-axis)",
      "width": 807,
      "height": 578,
      "layer": [
        {
          "data": {"name": "acfy"},
          "mark": {"type": "rule", "color": "#ff0000", "strokeWidth": 1.5},
          "encoding": {
            "x": {"field": "lag", "type": "quantitative", "scale": {"domain": [0, 20], "nice": false, "zero": false}, "axis": {"values": [0, 5, 10, 15, 20], "title": "Lag", "grid": true}},
            "y": {"field": "acf", "type": "quantitative", "scale": {"domain": [-0.5, 1], "nice": false, "zero": false}, "axis": {"values": [-0.5, 0, 0.5, 1], "format": "~g", "title": "Sample ACF", "grid": true}},
            "y2": {"datum": 0}
          }
        },
        {
          "data": {"name": "bands"},
          "mark": {"type": "rule", "strokeWidth": 2},
          "encoding": {
            "x": {"field": "from", "type": "quantitative", "scale": {"domain": [0, 20], "nice": false, "zero": false}, "axis": null},
            "x2": {"field": "to"},
            "y": {"field": "level", "type": "quantitative", "scale": {"domain": [-0.5, 1], "nice": false, "zero": false}, "axis": null},
            "color": {"field": "kind", "type": "nominal", "scale": {"domain": ["bound", "zero"], "range": ["#0000ff", "#000000"]}, "legend": null}
          }
        },
        {
          "data": {"name": "acfy"},
          "mark": {"type": "point", "filled": true, "color": "#ff0000", "size": 240, "opacity": 1},
          "encoding": {
            "x": {"field": "lag", "type": "quantitative", "scale": {"domain": [0, 20], "nice": false, "zero": false}, "axis": null},
            "y": {"field": "acf", "type": "quantitative", "scale": {"domain": [-0.5, 1], "nice": false, "zero": false}, "axis": null}
          }
        },
        {
          "data": {"name": "acfy"},
          "mark": {"type": "point", "opacity": 0},
          "encoding": {
            "x": {"field": "lag", "type": "quantitative", "scale": {"domain": [0, 20], "nice": false, "zero": false}, "axis": {"orient": "top", "values": [0, 5, 10, 15, 20], "labels": false, "title": null}},
            "y": {"field": "acf", "type": "quantitative", "scale": {"domain": [-0.5, 1], "nice": false, "zero": false}, "axis": {"orient": "right", "values": [-0.5, 0, 0.5, 1], "labels": false, "title": null}}
          }
        }
      ],
      "resolve": {"axis": {"x": "independent", "y": "independent"}}
    },
    {
      "title": "(f) ACF plot(z-axis)",
      "width": 807,
      "height": 578,
      "layer": [
        {
          "data": {"name": "acfz"},
          "mark": {"type": "rule", "color": "#ff0000", "strokeWidth": 1.5},
          "encoding": {
            "x": {"field": "lag", "type": "quantitative", "scale": {"domain": [0, 20], "nice": false, "zero": false}, "axis": {"values": [0, 5, 10, 15, 20], "title": "Lag", "grid": true}},
            "y": {"field": "acf", "type": "quantitative", "scale": {"domain": [-0.5, 1], "nice": false, "zero": false}, "axis": {"values": [-0.5, 0, 0.5, 1], "format": "~g", "title": "Sample ACF", "grid": true}},
            "y2": {"datum": 0}
          }
        },
        {
          "data": {"name": "bands"},
          "mark": {"type": "rule", "strokeWidth": 2},
          "encoding": {
            "x": {"field": "from", "type": "quantitative", "scale": {"domain": [0, 20], "nice": false, "zero": false}, "axis": null},
            "x2": {"field": "to"},
            "y": {"field": "level", "type": "quantitative", "scale": {"domain": [-0.5, 1], "nice": false, "zero": false}, "axis": null},
            "color": {"field": "kind", "type": "nominal", "scale": {"domain": ["bound", "zero"], "range": ["#0000ff", "#000000"]}, "legend": null}
          }
        },
        {
          "data": {"name": "acfz"},
          "mark": {"type": "point", "filled": true, "color": "#ff0000", "size": 240, "opacity": 1},
          "encoding": {
            "x": {"field": "lag", "type": "quantitative", "scale": {"domain": [0, 20], "nice": false, "zero": false}, "axis": null},
            "y": {"field": "acf", "type": "quantitative", "scale": {"domain": [-0.5, 1], "nice": false, "zero": false}, "axis": null}
          }
        },
        {
          "data": {"name": "acfz"},
          "mark": {"type": "point", "opacity": 0},
          "encoding": {
            "x": {"field": "lag", "type": "quantitative", "scale": {"domain": [0, 20], "nice": false, "zero": false}, "axis": {"orient": "top", "values": [0, 5, 10, 15, 20], "labels": false, "title": null}},
            "y": {"field": "acf", "type": "quantitative", "scale": {"domain": [-0.5, 1], "nice": false, "zero": false}, "axis": {"orient": "right", "values": [-0.5, 0, 0.5, 1], "labels": false, "title": null}}
          }
        }
      ],
      "resolve": {"axis": {"x": "independent", "y": "independent"}}
    }
  ],
  "config": {
    "font": "DejaVu Sans",
    "view": {"stroke": "#000000", "strokeWidth": 1.7},
    "title": {"font": "DejaVu Sans", "fontSize": 31, "fontWeight": "bold", "color": "#000000", "offset": 3, "anchor": "middle"},
    "axis": {
      "labelFont": "DejaVu Sans",
      "labelFontSize": 31,
      "labelColor": "#000000",
      "titleFont": "DejaVu Sans",
      "titleFontSize": 30,
      "titleFontWeight": "bold",
      "titleColor": "#000000",
      "domain": false,
      "grid": false,
      "gridColor": "#000000",
      "gridOpacity": 1,
      "gridWidth": 1.5,
      "gridDash": [2, 13.7],
      "tickColor": "#000000",
      "tickSize": -7,
      "tickWidth": 1.5,
      "labelFlush": false,
      "labelOverlap": false
    },
    "axisX": {"labelPadding": 24.8, "titlePadding": 7},
    "axisY": {"labelPadding": 19, "titlePadding": 18}
  }
}
